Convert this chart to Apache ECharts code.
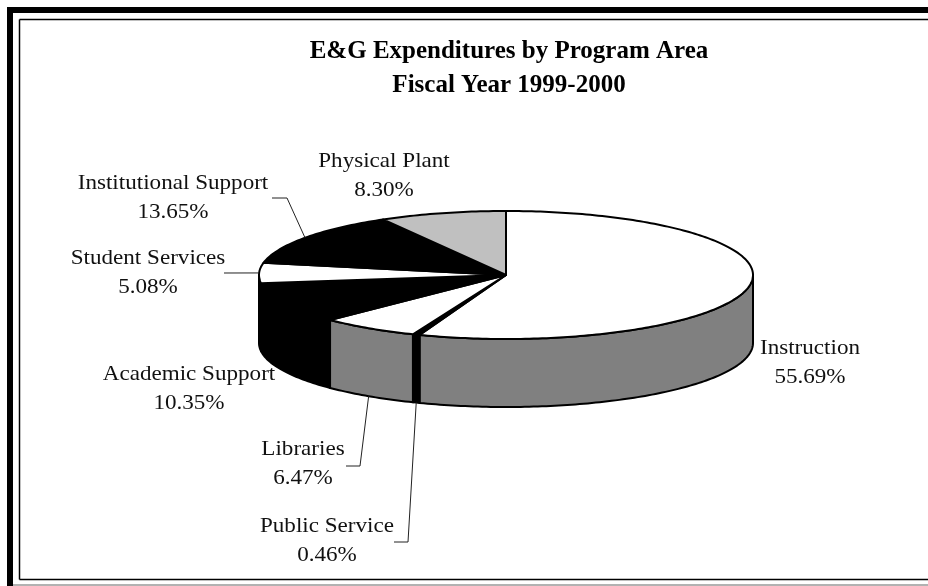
<!DOCTYPE html>
<html>
<head>
<meta charset="utf-8">
<style>
  html, body { margin: 0; padding: 0; background: #fff; }
  #main { width: 928px; height: 586px; }
</style>
<script src="https://cdn.jsdelivr.net/npm/echarts@6/dist/echarts.min.js"></script>
</head>
<body>
<div id="main"></div>
<script>
const programs = ['Instruction', 'Public Service', 'Libraries', 'Academic Support', 'Student Services', 'Institutional Support', 'Physical Plant'];
const shares = [55.69, 0.46, 6.47, 10.35, 5.08, 13.65, 8.30];

const topColors = ['#ffffff', '#000000', '#ffffff', '#000000', '#ffffff', '#000000', '#c0c0c0'];
const sideColors = ['#808080', '#000000', '#808080', '#000000', '#ffffff', '#000000', '#c0c0c0'];

// label centre, then the elbow of the leader line and where it stops at the text
const labelLayout = [
  {x: 810, y: 363},
  {x: 327, y: 541, elbow: [408, 542], end: [394, 542], rim: true},
  {x: 303, y: 464, elbow: [360, 466], end: [346, 466], rim: true},
  {x: 189, y: 389},
  {x: 148, y: 273, elbow: [224, 273], end: [224, 273]},
  {x: 173, y: 198, elbow: [287, 198], end: [272, 198]},
  {x: 384, y: 176}
];

const cx = 506, cy = 275, rx = 247, ry = 64, depth = 68;
const total = shares.reduce((a, b) => a + b, 0);

// angles are clockwise from 12 o'clock, in degrees
const starts = [];
shares.reduce((acc, v, i) => {
  starts[i] = acc;
  return acc + v / total * 360;
}, 0);

function rim(deg, dy) {
  const r = deg * Math.PI / 180;
  return [cx + rx * Math.sin(r), cy - ry * Math.cos(r) + (dy || 0)];
}

function arc(a0, a1, dy) {
  const pts = [];
  const n = Math.max(2, Math.ceil(Math.abs(a1 - a0)));
  for (let i = 0; i <= n; i++) {
    pts.push(rim(a0 + (a1 - a0) * i / n, dy));
  }
  return pts;
}

function renderSide(params, api) {
  const i = params.dataIndex;
  const a0 = Math.max(starts[i], 90);
  const a1 = Math.min(starts[i] + api.value(0) / total * 360, 270);
  if (a1 <= a0) {
    return null;
  }
  return {
    type: 'polygon',
    shape: {points: arc(a0, a1, 0).concat(arc(a1, a0, depth))},
    style: {fill: sideColors[i], stroke: '#000', lineWidth: 2, lineJoin: 'round'}
  };
}

function renderTop(params, api) {
  const i = params.dataIndex;
  const a0 = starts[i];
  const a1 = a0 + api.value(0) / total * 360;
  return {
    type: 'polygon',
    shape: {points: [[cx, cy]].concat(arc(a0, a1, 0))},
    style: {fill: topColors[i], stroke: '#000', lineWidth: 2, lineJoin: 'round'}
  };
}

function renderLabel(params, api) {
  const i = params.dataIndex;
  const v = api.value(0);
  const pos = labelLayout[i];
  const children = [{
    type: 'text',
    x: pos.x,
    y: pos.y,
    scaleX: 1.1, // the source picture is stretched a little sideways
    style: {
      x: 0, y: 0,
      text: programs[i] + '\n' + v.toFixed(2) + '%',
      align: 'center', verticalAlign: 'middle',
      font: '21px "Liberation Serif"',
      lineHeight: 29,
      fill: '#111'
    }
  }];
  if (pos.elbow) {
    const mid = starts[i] + v / total * 180;
    children.push({
      type: 'polyline',
      shape: {points: [rim(mid, pos.rim ? depth : 0), pos.elbow, pos.end]},
      style: {fill: null, stroke: '#222', lineWidth: 1}
    });
  }
  return {type: 'group', children: children};
}

function frameLine(x1, y1, x2, y2, color, width) {
  return {
    type: 'line',
    shape: {x1: x1, y1: y1, x2: x2, y2: y2},
    style: {stroke: color, lineWidth: width}
  };
}

const chart = echarts.init(document.getElementById('main'));
const seriesData = shares.map((v, i) => ({name: programs[i], value: v}));
chart.setOption({
  animation: false,
  backgroundColor: '#fff',
  title: {
    text: 'E&G Expenditures by Program Area\nFiscal Year 1999-2000',
    left: 504,
    top: 30,
    textAlign: 'center',
    textStyle: {
      fontFamily: 'Liberation Serif',
      fontWeight: 'bold',
      fontSize: 25,
      lineHeight: 34,
      color: '#000'
    }
  },
  graphic: [
    frameLine(10, 7, 10, 586, '#000', 6),
    frameLine(7, 10, 928, 10, '#000', 6),
    frameLine(19.5, 19.5, 928, 19.5, '#000', 1.5),
    frameLine(19.5, 19.5, 19.5, 579.5, '#000', 1.5),
    frameLine(19.5, 579.5, 928, 579.5, '#000', 1.5),
    frameLine(13, 585, 928, 585, '#999', 1.5)
  ],
  series: [
    {type: 'custom', coordinateSystem: 'none', renderItem: renderSide, data: seriesData, z: 2, silent: true},
    {type: 'custom', coordinateSystem: 'none', renderItem: renderTop, data: seriesData, z: 3, silent: true},
    {type: 'custom', coordinateSystem: 'none', renderItem: renderLabel, data: seriesData, z: 4, silent: true}
  ]
});
</script>
</body>
</html>
